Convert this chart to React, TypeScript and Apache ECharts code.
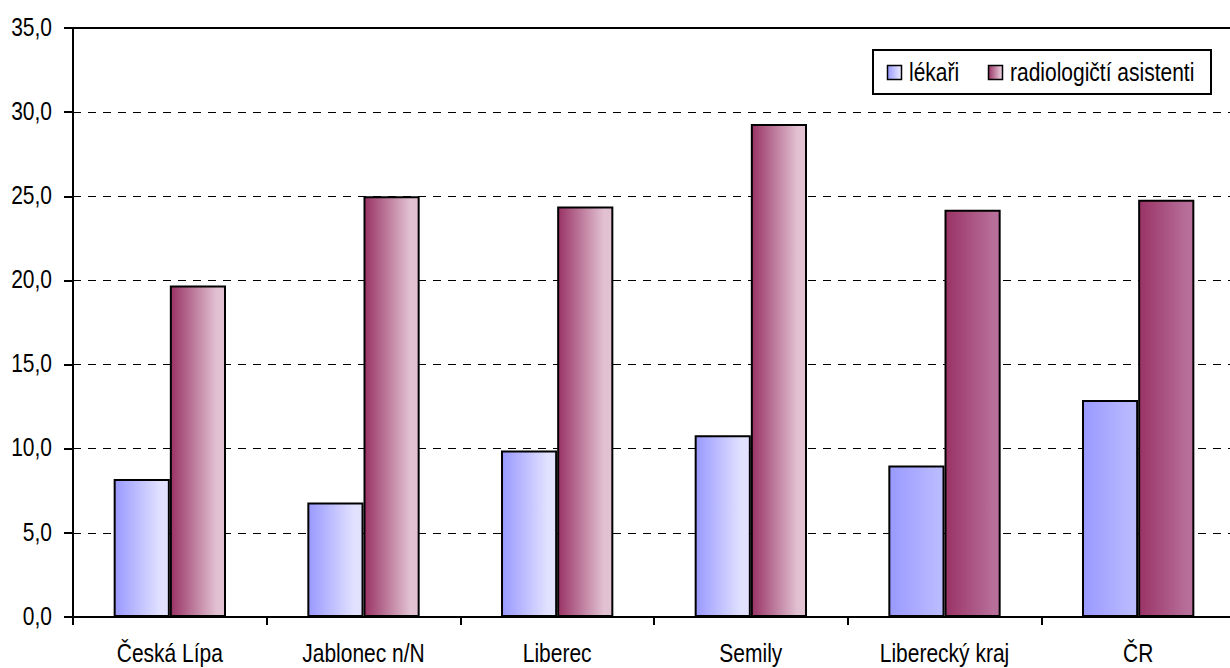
import React, { useEffect, useRef } from "react";
import * as echarts from "echarts";

const categories = ["Česká Lípa", "Jablonec n/N", "Liberec", "Semily", "Liberecký kraj", "ČR"];
const lekari = [8.2, 6.8, 9.9, 10.8, 9.0, 12.9];
const asistenti = [19.7, 25.0, 24.4, 29.3, 24.2, 24.8];
const seriesNames = ["lékaři", "radiologičtí asistenti"];
const yTicks = [0, 5, 10, 15, 20, 25, 30, 35];

const FONT = "'Liberation Sans', Arial, sans-serif";
const FS = 25;
const SX = 0.84;

function grad(a: string, b: string, stop: number) {
  return new echarts.graphic.LinearGradient(0, 0, 1, 0, [
    { offset: 0, color: a },
    { offset: stop, color: b },
    { offset: 1, color: b },
  ]);
}

function label(text: string, x: number, y: number, align: string) {
  return {
    type: "text",
    x,
    y,
    scaleX: SX,
    silent: true,
    style: {
      text,
      fill: "#000",
      fontSize: FS,
      fontFamily: FONT,
      align,
      verticalAlign: "middle",
      textAlign: align,
      textVerticalAlign: "middle",
    },
  };
}

export default function App() {
  const ref = useRef<HTMLDivElement>(null);
  useEffect(() => {
    if (!ref.current) return;
    const chart = echarts.init(ref.current, null, { renderer: "svg" });
    const blueLight = grad("#9999ff", "#e2e2ff", 0.85);
    const blueDark = grad("#9999ff", "#babaff", 0.9);
    const purpLight = grad("#993366", "#e2c2d2", 0.85);
    const purpDark = grad("#993366", "#b8709a", 0.9);
    chart.setOption({
      animation: false,
      textStyle: { fontFamily: FONT },
      grid: { left: 73, top: 28, bottom: 51, right: 5 },
      xAxis: [
        {
          type: "category",
          data: categories,
          axisLine: { lineStyle: { color: "#000", width: 2 } },
          axisTick: { show: true, length: 8, lineStyle: { color: "#000", width: 2 } },
          axisLabel: { show: false },
        },
        {
          type: "category",
          position: "top",
          data: categories,
          axisLine: { show: true, lineStyle: { color: "#000", width: 2 } },
          axisTick: { show: false },
          axisLabel: { show: false },
        },
      ],
      yAxis: {
        type: "value",
        min: 0,
        max: 35,
        interval: 5,
        axisLine: { show: true, lineStyle: { color: "#000", width: 2 } },
        axisTick: { show: true, length: 9, lineStyle: { color: "#000", width: 2 } },
        axisLabel: { show: false },
        splitLine: { show: true, lineStyle: { color: "#000", type: [8, 7], width: 1 } },
      },
      series: [
        {
          name: seriesNames[0],
          type: "bar",
          barGap: "0%",
          barCategoryGap: "42%",
          data: lekari.map((v, i) => ({
            value: v,
            itemStyle: { color: i < 4 ? blueLight : blueDark },
          })),
          itemStyle: { borderColor: "#000", borderWidth: 2 },
        },
        {
          name: seriesNames[1],
          type: "bar",
          barGap: "0%",
          barCategoryGap: "42%",
          data: asistenti.map((v, i) => ({
            value: v,
            itemStyle: { color: i < 4 ? purpLight : purpDark },
          })),
          itemStyle: { borderColor: "#000", borderWidth: 2 },
        },
      ],
    });

    const graphics: any[] = [];
    yTicks.forEach((v) => {
      const py = chart.convertToPixel({ yAxisIndex: 0 }, v) as number;
      graphics.push(label(v.toFixed(1).replace(".", ","), 52, py - 1, "right"));
    });
    categories.forEach((c) => {
      const px = chart.convertToPixel({ xAxisIndex: 0 }, c) as number;
      graphics.push(label(c, px, 653, "center"));
    });
    // legend
    graphics.push({
      type: "rect",
      silent: true,
      shape: { x: 873, y: 50, width: 338, height: 44 },
      style: { fill: "#fff", stroke: "#000", lineWidth: 2 },
    });
    graphics.push({
      type: "rect",
      silent: true,
      shape: { x: 887.5, y: 65.5, width: 14, height: 14 },
      style: { fill: blueLight, stroke: "#000", lineWidth: 1.5 },
    });
    graphics.push(label(seriesNames[0], 909, 72, "left"));
    graphics.push({
      type: "rect",
      silent: true,
      shape: { x: 988.5, y: 65.5, width: 14, height: 14 },
      style: { fill: purpLight, stroke: "#000", lineWidth: 1.5 },
    });
    graphics.push(label(seriesNames[1], 1010, 72, "left"));
    chart.setOption({ graphic: graphics });

    return () => chart.dispose();
  }, []);
  return (
    <div style={{ position: "fixed", left: 0, top: 0, width: 1230, height: 668, overflow: "hidden", background: "#fff" }}>
      <div ref={ref} style={{ width: 1240, height: 668 }} />
    </div>
  );
}
